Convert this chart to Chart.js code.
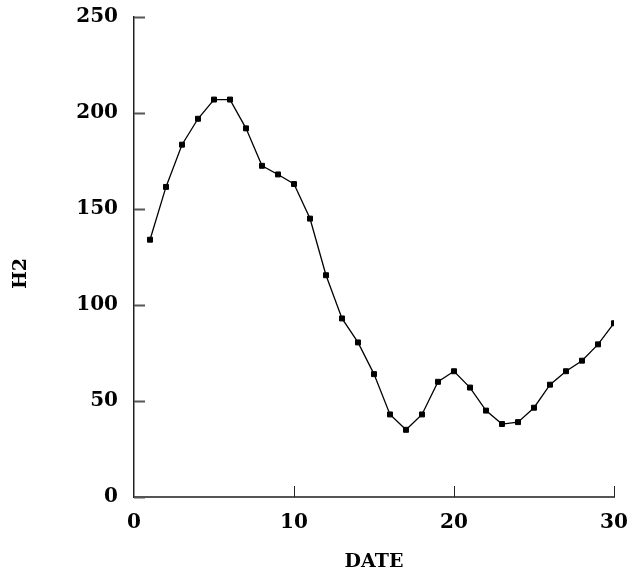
<!DOCTYPE html>
<html>
<head>
<meta charset="utf-8">
<script src="https://cdn.jsdelivr.net/npm/chart.js@4.4.1/dist/chart.umd.min.js"></script>
<style>
  html, body { margin: 0; padding: 0; background: #fff; }
  #wrap { width: 634px; height: 575px; }
</style>
</head>
<body>
<div id="wrap"><canvas id="myChart"></canvas></div>
<script>
const dates = [1, 2, 3, 4, 5, 6, 7, 8, 9, 10, 11, 12, 13, 14, 15, 16, 17, 18, 19, 20, 21, 22, 23, 24, 25, 26, 27, 28, 29, 30];
const h2 = [134, 161.5, 183.5, 197, 207, 207, 192, 172.5, 168, 163, 145, 115.5, 93, 80.5, 64, 43, 35, 43, 60, 65.5, 57, 45, 38, 39, 46.5, 58.5, 65.5, 71, 79.5, 90.5];
const xTicks = [0, 10, 20, 30];
const yTicks = [0, 50, 100, 150, 200, 250];

const tickFont = { family: 'DejaVu Serif', size: 20, weight: 'bold' };
const titleFont = { family: 'DejaVu Serif', size: 19, weight: 'bold' };

// ticks pointing into the plot, like the original
const innerTicks = {
    id: 'innerTicks',
    afterDraw(chart) {
        const ctx = chart.ctx;
        const x = chart.scales.x, y = chart.scales.y;
        ctx.save();
        ctx.strokeStyle = '#555';
        ctx.lineWidth = 2;
        yTicks.forEach(v => {
            const py = Math.round(y.getPixelForValue(v)) + 0.5;
            ctx.beginPath();
            ctx.moveTo(x.left, py);
            ctx.lineTo(x.left + 11, py);
            ctx.stroke();
        });
        ctx.strokeStyle = '#222';
        ctx.lineWidth = 1;
        xTicks.slice(1).forEach(v => {
            const px = Math.round(x.getPixelForValue(v)) + 0.5;
            ctx.beginPath();
            ctx.moveTo(px, y.bottom);
            ctx.lineTo(px, y.bottom - 11);
            ctx.stroke();
        });
        ctx.restore();
    }
};

const ctx = document.getElementById('myChart').getContext('2d');
const chart = new Chart(ctx, {
    type: 'line',
    data: {
        datasets: [{
            label: 'H2',
            data: dates.map((d, i) => ({ x: d, y: h2[i] })),
            borderColor: '#000',
            borderWidth: 1.3,
            backgroundColor: '#000',
            pointStyle: 'rect',
            pointRadius: 3.5,
            pointBorderWidth: 1,
            tension: 0
        }]
    },
    options: {
        responsive: true,
        maintainAspectRatio: false,
        animation: false,
        layout: { padding: { top: 17, right: 20, left: 0, bottom: 0 } },
        plugins: { legend: { display: false }, tooltip: { enabled: false } },
        scales: {
            x: {
                type: 'linear',
                min: 0,
                max: 30,
                afterBuildTicks: s => { s.ticks = xTicks.map(v => ({ value: v })); },
                afterFit: s => { s.height = 78; s.paddingLeft = 0; s.paddingRight = 0; },
                grid: { display: false, drawTicks: false },
                border: { display: true, color: '#555', width: 2 },
                ticks: { color: '#000', font: tickFont, padding: 14, maxRotation: 0 },
                title: { display: true, text: 'DATE', color: '#000', font: titleFont, padding: { top: 0, bottom: 2 } }
            },
            y: {
                min: 0,
                max: 250,
                afterBuildTicks: s => { s.ticks = yTicks.map(v => ({ value: v })); },
                afterFit: s => { s.width = 134; s.paddingTop = 0; s.paddingBottom = 0; },
                grid: { display: false, drawTicks: false },
                border: { display: true, color: '#222', width: 1.5 },
                ticks: { color: '#000', font: tickFont, padding: 16 },
                // trailing spaces nudge the rotated title a bit lower, as in the original
                title: { display: true, text: 'H2\u00a0\u00a0\u00a0\u00a0\u00a0', color: '#000', font: titleFont, padding: { top: 10, bottom: 0 } }
            }
        }
    },
    plugins: [innerTicks]
});
</script>
</body>
</html>
